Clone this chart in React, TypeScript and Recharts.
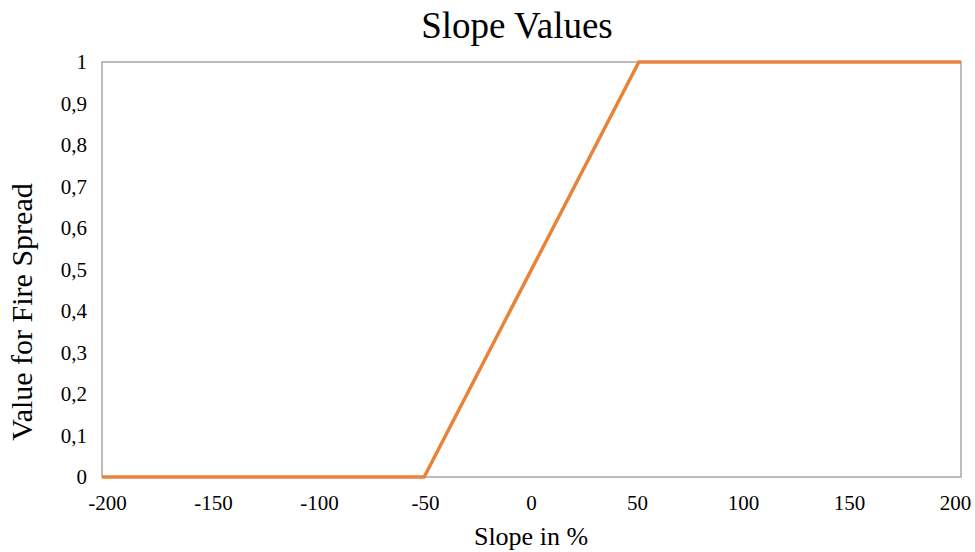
import React from "react";
import { LineChart, Line, XAxis, YAxis, ReferenceArea } from "recharts";

const slopes = [-200, -50, 50, 200];
const values = [0, 0, 1, 1];
const xTicks = [-200, -150, -100, -50, 0, 50, 100, 150, 200];
const yTicks = [0, 0.1, 0.2, 0.3, 0.4, 0.5, 0.6, 0.7, 0.8, 0.9, 1];

const data = slopes.map((s, i) => ({ slope: s, value: values[i] }));

const FONT = "'Liberation Serif', 'Times New Roman', serif";
const fmt = (v: number) => String(Math.round(v * 10) / 10).replace(".", ",");

const XTick = (props: any) => {
  const { x, y, payload, index } = props;
  const n = xTicks.length - 1;
  const shift = 5.5 - (11 * index) / n;
  return (
    <text
      x={x + shift}
      y={y}
      dy="0.71em"
      textAnchor="middle"
      fontFamily={FONT}
      fontSize={21}
      fill="#000"
    >
      {payload.value}
    </text>
  );
};

export default function App() {
  return (
    <div style={{ position: "absolute", left: 0, top: 0, background: "#fff", fontFamily: FONT }}>
      <LineChart
        width={975}
        height={552}
        data={data}
        margin={{ top: 62, right: 14, bottom: 45, left: 42 }}
      >
        <text x={517} y={38} textAnchor="middle" fontFamily={FONT} fontSize={37} fill="#000">
          Slope Values
        </text>
        <text x={531} y={545} textAnchor="middle" fontFamily={FONT} fontSize={26} fill="#000">
          Slope in %
        </text>
        <text
          x={32}
          y={312}
          transform="rotate(-90, 32, 312)"
          textAnchor="middle"
          fontFamily={FONT}
          fontSize={30}
          fill="#000"
        >
          Value for Fire Spread
        </text>
        <XAxis
          dataKey="slope"
          type="number"
          domain={[-200, 200]}
          ticks={xTicks}
          axisLine={false}
          tickLine={false}
          tickMargin={12}
          height={30}
          tick={<XTick />}
          interval={0}
        />
        <YAxis
          type="number"
          domain={[0, 1]}
          ticks={yTicks}
          axisLine={false}
          tickLine={false}
          tickMargin={9}
          width={60}
          tickFormatter={fmt}
          tick={{ fill: "#000", fontSize: 21, fontFamily: FONT }}
          interval={0}
        />
        <ReferenceArea
          x1={-200}
          x2={200}
          y1={0}
          y2={1}
          fill="none"
          fillOpacity={0}
          stroke="#a6a6a6"
          strokeWidth={1.5}
        />
        <Line
          type="linear"
          dataKey="value"
          stroke="#E8843A"
          strokeWidth={3.5}
          dot={false}
          isAnimationActive={false}
        />
      </LineChart>
    </div>
  );
}
